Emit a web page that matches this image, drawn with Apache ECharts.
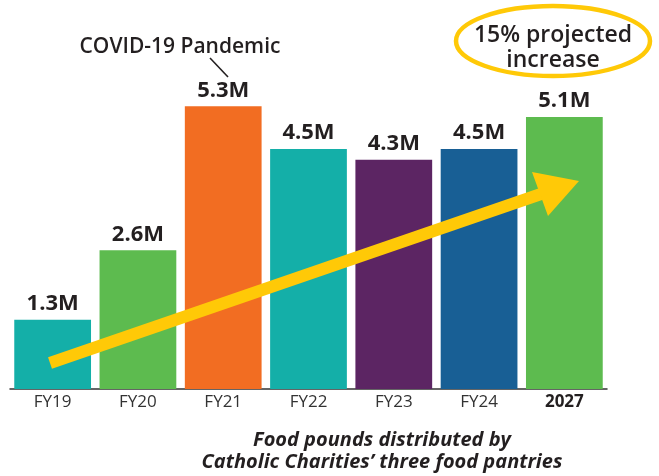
<!DOCTYPE html>
<html>
<head>
<meta charset="utf-8">
<script src="https://cdn.jsdelivr.net/npm/echarts@6/dist/echarts.min.js"></script>
<style>
html,body{margin:0;padding:0;background:#fff;}
#chart{width:659px;height:476px;}
</style>
</head>
<body>
<div id="chart"></div>
<script>
const categories = ['FY19', 'FY20', 'FY21', 'FY22', 'FY23', 'FY24', '2027'];
const values = [1.3, 2.6, 5.3, 4.5, 4.3, 4.5, 5.1];
const valueLabels = ['1.3M', '2.6M', '5.3M', '4.5M', '4.3M', '4.5M', '5.1M'];
const barColors = ['#14AFA8', '#5DBB4F', '#F26D22', '#14AFA8', '#5C2563', '#185F95', '#5DBB4F'];
const captionLines = ['Food pounds distributed by', 'Catholic Charities\u2019 three food pantries'];

const FONT = '"Open Sans", Lato, sans-serif';
const TEXT = '#231F20';
const YELLOW = '#FFC907';

const chart = echarts.init(document.getElementById('chart'));
chart.setOption({
  animation: false,
  grid: { left: 10, right: 52, top: 69, bottom: 87 },
  xAxis: {
    type: 'category',
    data: categories,
    axisTick: { show: false },
    axisLine: { lineStyle: { color: '#333', width: 1.5 } },
    axisLabel: {
      interval: 0,
      margin: 5,
      fontFamily: FONT,
      fontSize: 17,
      color: '#333',
      formatter: function (v) { return v === '2027' ? '{b|' + v + '}' : v; },
      rich: { b: { fontFamily: FONT, fontSize: 17, fontWeight: 'bold', color: TEXT } }
    }
  },
  yAxis: { type: 'value', min: 0, max: 6, show: false, splitLine: { show: false } },
  series: [{
    type: 'bar',
    barCategoryGap: '10%',
    data: values.map(function (v, i) { return { value: v, itemStyle: { color: barColors[i] } }; }),
    label: {
      show: true,
      position: 'top',
      distance: 5,
      fontFamily: FONT,
      fontSize: 22,
      fontWeight: 'bold',
      color: TEXT,
      formatter: function (p) { return valueLabels[p.dataIndex]; }
    }
  }],
  graphic: [
    { type: 'polyline', shape: { points: [[50, 363], [541, 194]] }, style: { stroke: YELLOW, lineWidth: 12, fill: null, lineCap: 'butt' }, z: 10 },
    { type: 'polygon', shape: { points: [[532, 172], [579, 181], [548, 216]] }, style: { fill: YELLOW }, z: 10 },
    { type: 'text', x: 180, y: 47, style: { text: 'COVID-19 Pandemic', font: '600 21px ' + FONT, fill: TEXT, textAlign: 'center', textVerticalAlign: 'middle' }, z: 10 },
    { type: 'line', shape: { x1: 210, y1: 58, x2: 228, y2: 77 }, style: { stroke: TEXT, lineWidth: 1.6 }, z: 10 },
    { type: 'ellipse', shape: { cx: 553, cy: 41, rx: 97, ry: 35 }, style: { stroke: YELLOW, lineWidth: 4.5, fill: null }, z: 10 },
    { type: 'text', x: 553, y: 35, style: { text: '15% projected', font: '600 23px ' + FONT, fill: TEXT, textAlign: 'center', textVerticalAlign: 'middle' }, z: 11 },
    { type: 'text', x: 553, y: 60, style: { text: 'increase', font: '600 23px ' + FONT, fill: TEXT, textAlign: 'center', textVerticalAlign: 'middle' }, z: 11 },
    { type: 'text', x: 382, y: 440, style: { text: captionLines[0], font: 'italic bold 20px ' + FONT, fill: TEXT, textAlign: 'center', textVerticalAlign: 'middle' }, z: 10 },
    { type: 'text', x: 382, y: 462, style: { text: captionLines[1], font: 'italic bold 20px ' + FONT, fill: TEXT, textAlign: 'center', textVerticalAlign: 'middle' }, z: 10 }
  ]
});
</script>
</body>
</html>
